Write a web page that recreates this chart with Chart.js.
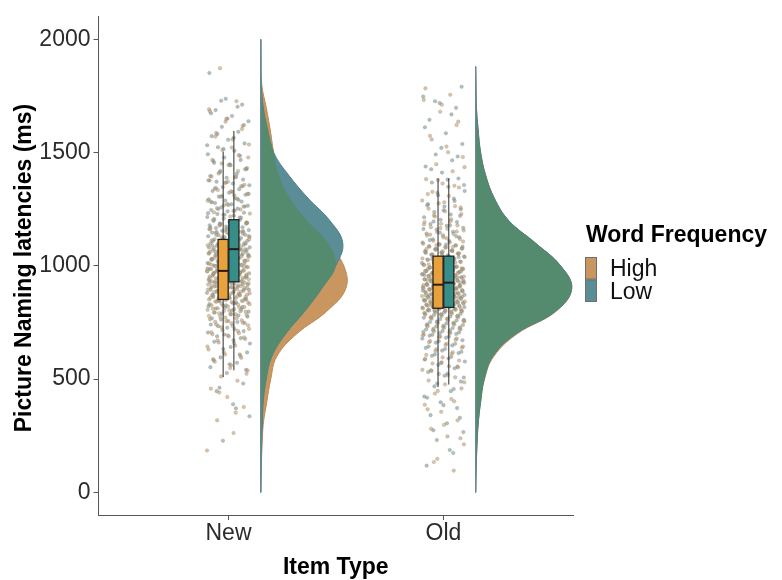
<!DOCTYPE html>
<html>
<head>
<meta charset="utf-8">
<script src="https://cdn.jsdelivr.net/npm/chart.js@4/dist/chart.umd.min.js"></script>
<style>
  html, body { margin: 0; padding: 0; background: #fff; }
  #wrap { width: 782px; height: 580px; }
</style>
</head>
<body>
<div id="wrap"><canvas id="c" width="782" height="580"></canvas></div>
<script>
// ---- data ----------------------------------------------------------------
const itemTypes = ['New', 'Old'];
const frequencies = ['High', 'Low'];
const yTicks = [0, 500, 1000, 1500, 2000];

// single-trial naming latencies (ms)
const newHigh = [185,262,318,377,421,458,493,512,538,561,577,594,609,631,648,662,677,689,698,
  703,716,722,735,741,749,756,764,769,777,783,788,794,799,
  801,806,809,813,818,821,826,829,833,838,840,843,845,849,852,857,860,863,868,871,874,876,879,882,885,889,891,894,897,899,
  902,905,909,911,916,918,921,925,927,929,932,934,937,941,943,945,948,950,953,957,959,962,964,966,968,971,975,977,980,981,983,986,989,991,994,997,999,
  1003,1007,1010,1015,1018,1022,1027,1031,1034,1038,1043,1046,1051,1055,1058,1063,1066,1069,1071,1075,1079,1082,1087,1091,1094,1098,
  1102,1109,1113,1121,1127,1132,1139,1146,1152,1158,1163,1171,1178,1186,1194,
  1204,1213,1226,1231,1242,1255,1262,1274,1283,1296,
  1305,1318,1329,1341,1352,1366,1378,1391,
  1408,1427,1445,1468,1489,1512,1536,1558,1587,1618,1649,1683,1727,1873,
  524,549,583,602,619,644,659,671,684,693,
  707,713,729,738,746,753,760,772,779,786,791,797,
  804,811,816,824,831,835,842,847,854,859,866,870,873,878,884,887,893,896,898,851,
  903,907,912,914,919,923,926,931,935,939,944,947,952,955,961,963,969,973,978,984,988,995,
  1001,1006,1012,1019,1025,1029,1036,1041,1048,1054,1061,1067,1073,1084,1089,1096,
  1106,1117,1124,1136,1143,1149,1161,1168,1182,1191,
  1218,1237,1249,1268,1288,1312,1335,1358,1372,1395,
  1419,1452,1479,1523,1571,1604,1637,1692,352,441];
const newLow = [228,336,389,447,481,527,553,572,596,618,642,665,681,697,
  706,721,734,748,757,769,781,790,798,
  803,812,818,826,831,839,844,852,857,863,869,874,881,886,891,896,899,
  902,908,913,917,922,926,931,935,939,941,944,948,951,956,959,963,967,971,975,978,982,986,989,993,996,999,
  1002,1005,1009,1013,1016,1021,1024,1028,1031,1035,1039,1042,1044,1046,1049,1053,1057,1060,1061,1064,1067,1071,1074,1078,1082,1085,1089,1092,1096,1099,
  1103,1106,1111,1115,1118,1123,1127,1131,1134,1136,1138,1142,1147,1151,1155,1158,1162,1167,1171,1174,1179,1183,1187,1191,1195,1198,
  1204,1209,1216,1222,1229,1235,1241,1247,1253,1259,1266,1272,1278,1284,1289,1294,1299,
  1306,1314,1323,1331,1339,1348,1356,1364,1372,1381,1389,1397,
  1407,1419,1432,1444,1455,1468,1479,1493,1508,1524,1541,1557,1573,1592,
  1614,1639,1662,1688,1712,1738,1852,
  371,462,541,566,588,609,633,657,672,689,
  712,727,741,752,763,776,786,794,
  807,815,822,835,848,855,861,872,878,889,894,
  905,911,919,924,929,937,943,953,961,969,973,981,988,995,
  1004,1011,1018,1026,1033,1037,1051,1055,1063,1069,1076,1081,1088,1094,1098,
  1101,1109,1114,1121,1129,1144,1149,1153,1164,1169,1177,1185,1189,1196,
  1207,1213,1226,1233,1244,1251,1262,1269,1281,1292,
  1309,1318,1327,1344,1352,1368,1377,1393,
  1413,1427,1449,1463,1486,1516,1533,1566,1582,1622,1651,1674,1703,1729];
const oldHigh = [96,148,212,247,281,318,356,387,412,436,459,477,494,508,523,541,557,569,582,596,
  607,619,632,644,656,668,679,688,697,
  704,711,719,727,734,741,748,755,761,767,773,779,784,789,794,799,
  801,803,806,810,812,815,817,820,822,826,828,830,833,836,838,841,844,846,849,851,853,857,859,862,864,867,871,873,876,878,881,884,886,889,892,894,897,899,
  901,904,908,911,913,916,920,922,925,929,931,934,937,940,942,946,948,951,955,957,960,964,966,969,973,975,978,982,984,987,991,993,996,999,
  1003,1008,1012,1017,1021,1026,1030,1035,1039,1044,1048,1053,1058,1062,1067,1071,1076,1081,1085,1090,1094,1098,
  1104,1111,1119,1126,1134,1141,1149,1156,1164,1171,1179,1186,1194,
  1206,1218,1229,1241,1253,1264,1276,1289,
  1309,1327,1346,1364,1383,1418,1449,1481,1527,1574,1622,1681,1733,1756,
  134,239,298,367,402,448,486,517,536,552,574,589,
  611,624,639,651,663,674,686,694,
  707,716,723,731,738,745,752,758,765,771,777,786,792,797,
  804,808,819,824,831,839,843,848,855,861,866,869,875,882,887,891,896,
  903,906,915,918,924,927,933,938,944,950,953,959,962,968,971,977,980,986,989,995,
  1006,1015,1024,1033,1042,1051,1056,1065,1074,1083,1092,
  1108,1122,1138,1152,1167,1183,1197,
  1224,1258,1281,1317,1354,1379,1436,1502,1558,1637,1712,1784];
const oldLow = [118,174,231,266,305,341,372,398,423,447,468,489,515,531,548,563,578,591,
  603,615,626,638,649,661,672,683,692,699,
  703,709,716,722,729,736,742,749,755,762,768,774,780,785,790,796,799,
  802,805,807,811,813,816,819,821,824,827,829,832,835,837,840,842,845,848,850,853,856,858,861,863,866,869,872,874,877,880,882,885,888,890,893,896,898,
  900,903,906,909,912,915,918,921,923,926,928,931,933,936,939,941,944,947,950,952,955,958,961,963,966,969,972,974,977,980,983,986,989,993,997,
  1002,1006,1011,1015,1019,1024,1028,1033,1037,1041,1046,1050,1055,1059,1064,1068,1073,1077,1082,1087,1091,1096,
  1103,1110,1118,1126,1135,1143,1151,1160,1168,1177,1185,1194,
  1204,1215,1227,1238,1250,1262,1273,1287,
  1312,1331,1349,1368,1386,1412,1439,1466,1492,1538,1586,1645,1698,1719,1748,
  187,274,329,385,418,456,481,507,524,539,556,571,587,598,
  609,621,633,644,656,667,679,688,696,
  706,713,720,726,733,739,746,752,759,765,771,777,783,788,794,
  803,809,814,818,826,831,838,843,847,852,859,864,868,871,879,886,891,895,
  902,908,913,917,925,930,935,938,943,949,954,960,965,971,976,982,988,994,
  1004,1013,1022,1031,1039,1048,1057,1066,1075,1085,1094,
  1114,1131,1147,1163,1179,1196,
  1221,1246,1268,1297,1323,1357,1381,1427,1483,1521,1612,1669,1727,1791];

// box summaries, order: New-High, New-Low, Old-High, Old-Low
const whiskerLow  = [509, 539, 465, 476];
const q1          = [852, 930, 813, 817];
const median      = [978, 1074, 917, 926];
const q3          = [1117, 1204, 1043, 1043];
const whiskerHigh = [1504, 1596, 1387, 1387];

// kernel density (relative to the tallest curve) at each latency of the grid
const newGrid = [2000,1900,1800,1700,1600,1500,1400,1300,1200,1100,1000,900,800,700,600,500,400,300,200,100,0];
const newHighDensity = [0,0.003,0.010,0.057,0.099,0.135,0.188,0.302,0.480,0.700,0.865,0.885,0.688,0.375,0.167,0.104,0.063,0.026,0.013,0.005,0];
const newLowDensity  = [0,0,0.005,0.026,0.073,0.135,0.292,0.490,0.719,0.854,0.780,0.635,0.458,0.260,0.115,0.057,0.026,0.016,0.008,0.003,0];
const oldGrid = [1880,1800,1700,1600,1500,1400,1300,1200,1100,1000,900,800,700,600,500,400,300,200,100,0];
const oldHighDensity = [0,0.003,0.008,0.026,0.052,0.104,0.193,0.344,0.625,0.885,1,0.838,0.432,0.188,0.092,0.052,0.026,0.013,0.005,0];
const oldLowDensity  = [0,0.003,0.008,0.026,0.052,0.104,0.193,0.344,0.625,0.885,1,0.833,0.417,0.177,0.089,0.052,0.026,0.013,0.005,0];

// ---- styling -------------------------------------------------------------
const FONT = "'Liberation Sans', Arial, Helvetica, sans-serif";
const colHigh = '#c9965f', colLow = '#5b8d97', colBoth = '#548a6d';
const boxHigh = '#e9a23b', boxLow = '#378e89';
const violinOffset = 0.15;    // gap between category centre and cloud baseline
const violinMaxWidth = 0.447; // width of the tallest density, in category units
const jitterHalf = 0.1;
const dodge = 0.025, boxHalf = 0.0235;

// deterministic horizontal spread so the cloud is stable between renders
const spread = (i, g) => (((i * 0.6180339887) + g * 0.37) % 1) * 2 - 1;

function cloud(values, cat, g) {
  return values.map((v, i) => ({ x: cat + jitterHalf * spread(i, g), y: v }));
}
function halfViolin(grid, dens, cat) {
  const base = cat + violinOffset;
  return grid.map((v, i) => ({ x: base + dens[i] * violinMaxWidth, y: v }));
}
function baseline(grid, cat) {
  const base = cat + violinOffset;
  return [{ x: base, y: grid[0] }, { x: base, y: grid[grid.length - 1] }];
}
const minOf = (a, b) => a.map((v, i) => Math.min(v, b[i]));

const violinDs = (data, fill, border, order) => ({
  type: 'line', data, fill: 'shape', backgroundColor: fill, borderColor: border,
  borderWidth: border ? 1 : 0, pointRadius: 0, tension: 0.4, order
});
const lineDs = (data) => ({
  type: 'line', data, fill: false, borderColor: '#6b8a93', borderWidth: 1,
  pointRadius: 0, tension: 0, order: 2
});
const pointDs = (data, color) => ({
  type: 'line', data, showLine: false, pointRadius: 1.8, pointBorderWidth: 0.5,
  pointBackgroundColor: color, pointBorderColor: 'rgba(120,120,120,0.45)', order: 1
});

const datasets = [
  violinDs(halfViolin(newGrid, newHighDensity, 1), colHigh, '#b98a55', 6),
  violinDs(halfViolin(newGrid, newLowDensity, 1), colLow, '#4d7f89', 5),
  violinDs(halfViolin(newGrid, minOf(newHighDensity, newLowDensity), 1), colBoth, null, 4),
  violinDs(halfViolin(oldGrid, oldHighDensity, 2), colHigh, '#b98a55', 6),
  violinDs(halfViolin(oldGrid, oldLowDensity, 2), colLow, '#4d7f89', 5),
  violinDs(halfViolin(oldGrid, minOf(oldHighDensity, oldLowDensity), 2), colBoth, null, 4),
  lineDs(baseline(newGrid, 1)),
  lineDs(baseline(oldGrid, 2)),
  pointDs(cloud(newHigh, 1, 0), 'rgba(192,148,90,0.55)'),
  pointDs(cloud(newLow, 1, 1), 'rgba(112,142,134,0.55)'),
  pointDs(cloud(oldHigh, 2, 2), 'rgba(192,148,90,0.55)'),
  pointDs(cloud(oldLow, 2, 3), 'rgba(112,142,134,0.55)')
];

// box-and-whisker per group, drawn over the clouds
const boxPlugin = {
  id: 'boxes',
  afterDatasetsDraw(chart) {
    const { ctx, scales: { x, y } } = chart;
    ctx.save();
    for (let i = 0; i < 4; i++) {
      const cat = Math.floor(i / 2) + 1;
      const isLow = i % 2 === 1;
      const cx = cat + (isLow ? dodge : -dodge);
      const mid = x.getPixelForValue(cx);
      const l = x.getPixelForValue(cx - boxHalf), r = x.getPixelForValue(cx + boxHalf);
      const yWl = y.getPixelForValue(whiskerLow[i]), yWh = y.getPixelForValue(whiskerHigh[i]);
      const yQ1 = y.getPixelForValue(q1[i]), yQ3 = y.getPixelForValue(q3[i]), yMd = y.getPixelForValue(median[i]);
      ctx.strokeStyle = '#2e2e2e';
      ctx.lineWidth = 1;
      ctx.beginPath();
      ctx.moveTo(mid, yWh); ctx.lineTo(mid, yQ3);
      ctx.moveTo(mid, yQ1); ctx.lineTo(mid, yWl);
      ctx.stroke();
      ctx.fillStyle = isLow ? boxLow : boxHigh;
      ctx.fillRect(l, yQ3, r - l, yQ1 - yQ3);
      ctx.strokeStyle = '#222';
      ctx.lineWidth = 1.3;
      ctx.strokeRect(l, yQ3, r - l, yQ1 - yQ3);
      ctx.lineWidth = 2;
      ctx.strokeStyle = '#2a1a10';
      ctx.beginPath(); ctx.moveTo(l, yMd); ctx.lineTo(r, yMd); ctx.stroke();
    }
    ctx.restore();
  }
};

// axis titles and the fill legend
const decorPlugin = {
  id: 'decor',
  afterDraw(chart) {
    const { ctx, chartArea } = chart;
    ctx.save();
    ctx.fillStyle = '#000';
    ctx.font = `bold 23px ${FONT}`;
    ctx.textAlign = 'center';
    ctx.textBaseline = 'alphabetic';
    ctx.fillText('Item Type', (chartArea.left + chartArea.right) / 2, 574);
    ctx.save();
    ctx.translate(31, 268);
    ctx.rotate(-Math.PI / 2);
    ctx.fillText('Picture Naming latencies (ms)', 0, 0);
    ctx.restore();

    ctx.textAlign = 'left';
    ctx.fillText('Word Frequency', 586, 242);
    const keys = [colHigh, colLow];
    ctx.font = `23px ${FONT}`;
    frequencies.forEach((name, k) => {
      const top = 257 + k * 22.5;
      ctx.fillStyle = keys[k];
      ctx.fillRect(585, top, 12, 22.5);
      ctx.strokeStyle = '#6e6e6e';
      ctx.lineWidth = 1;
      ctx.strokeRect(585.5, top + 0.5, 11, 21.5);
      ctx.fillStyle = '#111';
      ctx.fillText(name, 610, top + 19);
    });
    ctx.restore();
  }
};

new Chart(document.getElementById('c'), {
  type: 'line',
  data: { datasets },
  options: {
    responsive: false,
    animation: false,
    devicePixelRatio: 1,
    layout: { padding: { top: 8, right: 209, left: 0, bottom: 0 } },
    plugins: { legend: { display: false }, tooltip: { enabled: false } },
    scales: {
      x: {
        type: 'linear', min: 0.395, max: 2.603,
        afterFit: s => { s.height = 65; },
        afterBuildTicks: s => { s.ticks = [{ value: 1 }, { value: 2 }]; },
        ticks: { callback: v => itemTypes[v - 1], color: '#2b2b2b', font: { size: 23, family: FONT }, padding: 0, autoSkip: false, maxRotation: 0 },
        grid: { drawOnChartArea: false, drawTicks: true, tickLength: 5, color: '#555' },
        border: { display: true, color: '#555', width: 1 }
      },
      y: {
        type: 'linear', min: -100, max: 2100,
        afterFit: s => { s.width = 98.5; },
        afterBuildTicks: s => { s.ticks = yTicks.map(v => ({ value: v })); },
        ticks: { callback: v => String(v), color: '#2b2b2b', font: { size: 23, family: FONT }, padding: 3 },
        grid: { drawOnChartArea: false, drawTicks: true, tickLength: 5, color: '#555' },
        border: { display: true, color: '#555', width: 1 }
      }
    }
  },
  plugins: [boxPlugin, decorPlugin]
});
</script>
</body>
</html>
